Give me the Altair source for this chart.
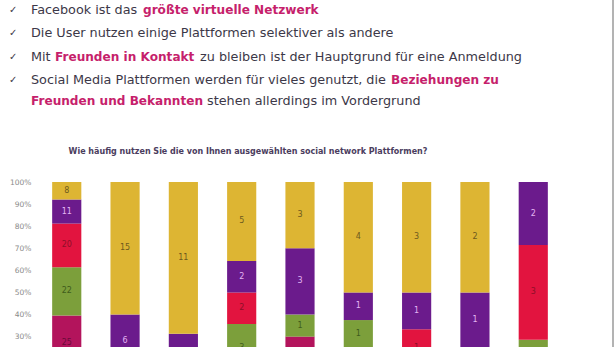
import altair as alt
import pandas as pd

# ---------------- data ----------------
platforms = ["P1", "P2", "P3", "P4", "P5", "P6", "P7", "P8", "P9"]
# series listed from top of the stack to bottom
series = ["seltener", "monatlich", "mehrmals im Monat", "wöchentlich", "mehrmals wöchentlich", "täglich"]
s_yellow = [8, 15, 11, 5, 3, 4, 3, 2, 0]
s_purple = [11, 6, 3, 2, 3, 1, 1, 1, 2]
s_red = [20, 0, 0, 2, 0, 0, 1, 0, 3]
s_green = [22, 0, 0, 3, 1, 1, 0, 0, 2]
s_magenta = [25, 4, 2, 2, 2, 2, 1, 1, 0]
s_bottom = [15, 0, 0, 0, 1, 0, 0, 0, 0]
values_top_to_bottom = [s_yellow, s_purple, s_red, s_green, s_magenta, s_bottom]

bar_colors = ["#DDB533", "#6B1B8C", "#E2143F", "#7C9F3B", "#B3145C", "#2A6EBB"]
label_colors = ["#6E5A1E", "#E2B4F2", "#8E0F28", "#3F5C1C", "#6A0A38", "#FFFFFF"]

chart_title = "Wie häufig nutzen Sie die von Ihnen ausgewählten social network Plattformen?"
y_ticks = [0.3, 0.4, 0.5, 0.6, 0.7, 0.8, 0.9, 1.0]

bullet_lines = [
    [("Facebook ist das", False), ("größte virtuelle Netzwerk", True)],
    [("Die User nutzen einige Plattformen selektiver als andere", False)],
    [("Mit", False), ("Freunden in Kontakt", True), ("zu bleiben ist der Hauptgrund für eine Anmeldung", False)],
    [("Social Media Plattformen werden für vieles genutzt, die", False), ("Beziehungen zu", True)],
    [("Freunden und Bekannten", True), ("stehen allerdings im Vordergrund", False)],
]
checked = [True, True, True, True, False]

# ---------------- layout (pixels) ----------------
OX, OY = 37, 182
run_x = [[31, 143], [31], [31, 55, 200], [31, 391], [31, 207]]
line_y = [10, 33, 57, 80, 101]

# ---------------- build tables ----------------
rows = []
for i, p in enumerate(platforms):
    total = sum(v[i] for v in values_top_to_bottom)
    cum = 0
    for k in reversed(range(len(series))):
        v = values_top_to_bottom[k][i]
        if v > 0:
            rows.append({
                "platform": p, "series": series[k], "value": v,
                "start": cum / total, "end": (cum + v) / total,
                "mid": (cum + v / 2) / total,
            })
        cum += v
df = pd.DataFrame(rows)

norm_rows, bold_rows, check_rows = [], [], []
for li, runs in enumerate(bullet_lines):
    for ri, (txt, bold) in enumerate(runs):
        r = {"t": txt, "px": run_x[li][ri] - OX, "py": line_y[li] - OY}
        (bold_rows if bold else norm_rows).append(r)
    if checked[li]:
        check_rows.append({"t": "✓", "px": 9 - OX, "py": line_y[li] - OY})

yscale = alt.Scale(domain=[0.253, 1.0], nice=False, zero=False)
xscale = alt.Scale(domain=platforms, paddingInner=0.5, paddingOuter=0.26)
yaxis = alt.Axis(
    values=y_ticks, format=".0%", title=None, grid=False, domain=False,
    ticks=False, labelPadding=6, labelFontSize=7.5, labelColor="#8A8A8A",
    labelFlush=False, labelOverlap=False, labelFont="DejaVu Sans")

base = alt.Chart(df)
bars = base.mark_bar(clip=True).encode(
    x=alt.X("platform:N", scale=xscale, axis=None, sort=platforms),
    y=alt.Y("end:Q", scale=yscale, axis=yaxis),
    y2="start:Q",
    color=alt.Color("series:N", scale=alt.Scale(domain=series, range=bar_colors), legend=None),
)
labels = base.mark_text(clip=True, fontSize=8, font="DejaVu Sans").encode(
    x=alt.X("platform:N", scale=xscale, axis=None, sort=platforms),
    y=alt.Y("mid:Q", scale=yscale, axis=yaxis),
    text="value:Q",
    color=alt.Color("series:N", scale=alt.Scale(domain=series, range=label_colors), legend=None),
)

def text_layer(rows_, **kw):
    return alt.Chart(pd.DataFrame(rows_)).mark_text(align="left", baseline="middle", **kw).encode(
        x=alt.X("px:Q", scale=None), y=alt.Y("py:Q", scale=None), text="t:N")

normal = text_layer(norm_rows, font="DejaVu Sans", fontSize=12.8, color="#3C3848")
boldt = text_layer(bold_rows, font="DejaVu Sans", fontSize=12.1, fontWeight="bold", color="#C61F6C")
checks = text_layer(check_rows, font="DejaVu Sans", fontSize=10, color="#3C3848")

title = alt.Chart(pd.DataFrame({"t": [chart_title]})).mark_text(
    align="center", baseline="middle", font="DejaVu Sans", fontSize=8, fontWeight="bold", color="#4B3D5E"
).encode(x=alt.value(248 - OX), y=alt.value(152 - OY), text="t:N")

edge = alt.Chart(pd.DataFrame({"a": [0]})).mark_rule(color="#9A9A9A", strokeWidth=1.5).encode(
    x=alt.value(613 - OX), y=alt.value(-OY), y2=alt.value(347 - OY))

chart = alt.layer(bars, labels, normal, boldt, checks, title, edge).resolve_scale(
    color="independent"
).properties(
    width=526, height=165,
    autosize=alt.AutoSizeParams(type="none"),
    padding={"left": OX, "top": OY, "right": 616 - OX - 526, "bottom": 0},
    background="white",
).configure_view(stroke=None).configure_axis(labelOverlap=False)

chart.save("out.html", embed_options={"renderer": "svg", "actions": False})
